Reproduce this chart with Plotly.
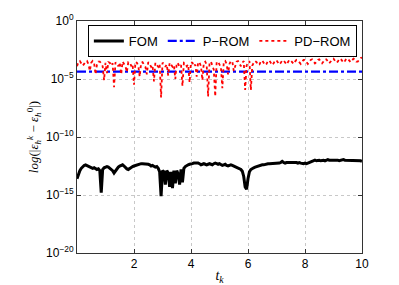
import numpy as np
import plotly.graph_objects as go

# time grid (t_k), step 0.05
t = np.round(np.arange(0, 201) * 0.05, 2)

# log10 of |eps_h^k - eps_h^0|
fom_log10 = [
    -13.6, -13.2, -12.9, -12.7, -12.55, -12.45, -12.4, -12.45, -12.55, -12.6,
    -12.65, -12.7, -12.65, -12.75, -12.8, -12.75, -12.9, -14.8, -12.8, -12.65,
    -12.6, -12.55, -12.6, -12.7, -12.8, -12.9, -13.1, -12.9, -12.7, -12.6,
    -12.5, -12.45, -12.4, -12.5, -12.65, -12.75, -12.8, -12.7, -12.65, -12.55,
    -12.5, -12.45, -12.4, -12.35, -12.35, -12.3, -12.3, -12.3, -12.35, -12.3,
    -12.35, -12.4, -12.5, -12.45, -12.55, -12.6, -12.55, -12.7, -13.0, -15.1,
    -12.9, -13.0, -14.1, -12.9, -13.1, -14.3, -13.0, -14.4, -12.9, -14.0,
    -12.9, -13.2, -14.1, -12.8, -13.9, -12.7, -12.55, -12.45, -12.4, -12.35,
    -12.35, -12.3, -12.25, -12.25, -12.2, -12.25, -12.3, -12.4, -12.35, -12.3,
    -12.35, -12.4, -12.35, -12.3, -12.35, -12.4, -12.3, -12.25, -12.3, -12.35,
    -12.3, -12.4, -12.45, -12.4, -12.35, -12.45, -12.5, -12.45, -12.4, -12.45,
    -12.5, -12.55, -12.6, -12.65, -12.7, -12.8, -12.95, -13.4, -14.3, -14.5,
    -13.6, -13.0, -12.8, -12.7, -12.65, -12.6, -12.55, -12.5, -12.5, -12.45,
    -12.4, -12.4, -12.35, -12.35, -12.3, -12.3, -12.3, -12.25, -12.3, -12.3,
    -12.25, -12.3, -12.25, -12.2, -12.1, -12.2, -12.25, -12.2, -12.2, -12.15,
    -12.2, -12.2, -12.15, -12.2, -12.2, -12.25, -12.2, -12.25, -12.3, -12.3,
    -12.25, -12.3, -12.25, -12.2, -12.1, -12.05, -12.05, -12.0, -12.05, -12.0,
    -12.0, -12.05, -12.0, -12.0, -12.05, -12.0, -11.95, -12.0, -12.0, -11.95,
    -12.0, -11.95, -12.0, -12.0, -12.05, -12.0, -12.0, -11.95, -12.0, -12.0,
    -12.05, -12.0, -12.0, -12.0, -12.0, -12.05, -12.0, -12.05, -12.05, -12.05,
    -12.1,
]

pdrom_log10 = [
    -3.9, -3.55, -3.45, -3.6, -3.85, -3.7, -3.5, -3.45, -3.7, -4.3,
    -3.6, -3.45, -3.6, -4.6, -3.75, -3.5, -3.5, -3.65, -3.9, -5.1,
    -3.6, -4.5, -3.55, -3.6, -3.85, -3.65, -5.7, -3.55, -3.7, -3.9,
    -3.6, -4.6, -3.5, -3.7, -3.9, -4.4, -3.55, -3.6, -3.85, -3.7,
    -5.5, -3.55, -3.6, -3.85, -4.8, -3.6, -3.55, -3.75, -3.95, -4.6,
    -3.55, -3.7, -3.95, -3.8, -5.2, -3.6, -3.75, -3.95, -3.7, -6.6,
    -3.6, -3.7, -3.95, -3.75, -4.7, -3.6, -3.75, -3.95, -3.8, -5.0,
    -3.6, -3.7, -3.95, -3.8, -5.6, -3.6, -3.65, -3.9, -3.75, -5.3,
    -3.55, -3.6, -3.9, -3.75, -4.8, -3.55, -3.6, -3.9, -5.1, -3.6,
    -3.5, -3.75, -6.5, -3.6, -3.5, -3.8, -4.2, -6.5, -3.55, -3.5,
    -3.8, -4.0, -5.8, -3.5, -3.45, -3.7, -4.6, -3.7, -3.45, -3.5,
    -4.3, -3.85, -3.5, -3.45, -3.7, -3.9, -3.6, -3.45, -5.95, -3.85,
    -3.6, -3.45, -5.95, -3.85, -3.6, -3.45, -3.55, -3.8, -3.75, -3.5,
    -3.4, -3.55, -3.8, -3.7, -3.45, -3.4, -3.6, -3.8, -3.65, -3.4,
    -3.4, -3.6, -3.75, -3.6, -3.4, -3.4, -3.6, -3.75, -3.55, -3.35,
    -3.4, -3.6, -3.7, -3.5, -3.35, -3.4, -3.6, -3.7, -3.5, -3.35,
    -3.35, -3.55, -3.7, -3.55, -3.35, -3.3, -3.5, -3.65, -3.55, -3.35,
    -3.3, -3.5, -3.65, -3.5, -3.3, -3.3, -3.5, -3.65, -3.5, -3.3,
    -3.25, -3.45, -3.6, -3.5, -3.3, -3.25, -3.45, -3.6, -3.45, -3.25,
    -3.25, -3.45, -3.55, -3.4, -3.25, -3.3, -3.5, -3.5, -3.3, -3.2,
    -3.15,
]

t_prom = [0, 1, 2, 3, 4, 5, 6, 7, 8, 9, 10]
prom_log10 = [-4.37, -4.37, -4.37, -4.37, -4.37, -4.37, -4.37, -4.37, -4.37, -4.37, -4.37]

x_ticks = [2, 4, 6, 8, 10]
y_tick_exps = [0, -5, -10, -15, -20]
y_tick_text = ["10<sup>0</sup>", "10<sup>−5</sup>", "10<sup>−10</sup>",
               "10<sup>−15</sup>", "10<sup>−20</sup>"]

fom = [10.0 ** v for v in fom_log10]
pdrom = [10.0 ** v for v in pdrom_log10]
prom = [10.0 ** v for v in prom_log10]

fig = go.Figure()
fig.add_trace(go.Scatter(x=t, y=fom, mode="lines", name="FOM",
                         line=dict(color="black", width=3)))
fig.add_trace(go.Scatter(x=t_prom, y=prom, mode="lines", name="P−ROM",
                         line=dict(color="blue", width=2.2, dash="dashdot")))
fig.add_trace(go.Scatter(x=t, y=pdrom, mode="lines", name="PD−ROM",
                         line=dict(color="red", width=1.8, dash="dot")))

axis_common = dict(
    showline=True, linecolor="#333333", linewidth=1, mirror="ticks",
    ticks="inside", ticklen=4, tickcolor="#333333",
    showgrid=True, gridcolor="#c8c8c8", griddash="dot", gridwidth=1,
    zeroline=False, automargin=False,
    tickfont=dict(family="Liberation Sans, Arial, sans-serif", size=12, color="black"),
)

fig.update_xaxes(range=[0, 10], tickvals=x_ticks, ticktext=[str(v) for v in x_ticks],
                 title=dict(text="<i>t</i><sub><i>k</i></sub>",
                            font=dict(family="Liberation Serif, serif", size=14, color="black"),
                            standoff=4),
                 **axis_common)
fig.update_yaxes(type="log", range=[-20, 0],
                 tickvals=[10.0 ** e for e in y_tick_exps], ticktext=y_tick_text,
                 title=dict(text="<i>log</i>(|<i>ε</i><sub><i>h</i></sub><sup><i>k</i></sup> − <i>ε</i><sub><i>h</i></sub><sup>0</sup>|)",
                            font=dict(family="Liberation Serif, serif", size=13, color="black"),
                            standoff=4),
                 **axis_common)

# the page body has an 8px default margin, so the figure is 8px smaller
fig.update_layout(
    width=391, height=277,
    margin=dict(l=69, r=37, t=13, b=32),
    paper_bgcolor="white", plot_bgcolor="white",
    showlegend=True,
    legend=dict(orientation="h", x=0.982, xanchor="right", y=0.983, yanchor="top",
                bgcolor="white", bordercolor="black", borderwidth=1,
                font=dict(family="Liberation Sans, Arial, sans-serif", size=13, color="black"),
                itemwidth=30, tracegroupgap=0),
)

fig.write_html("out.html")
